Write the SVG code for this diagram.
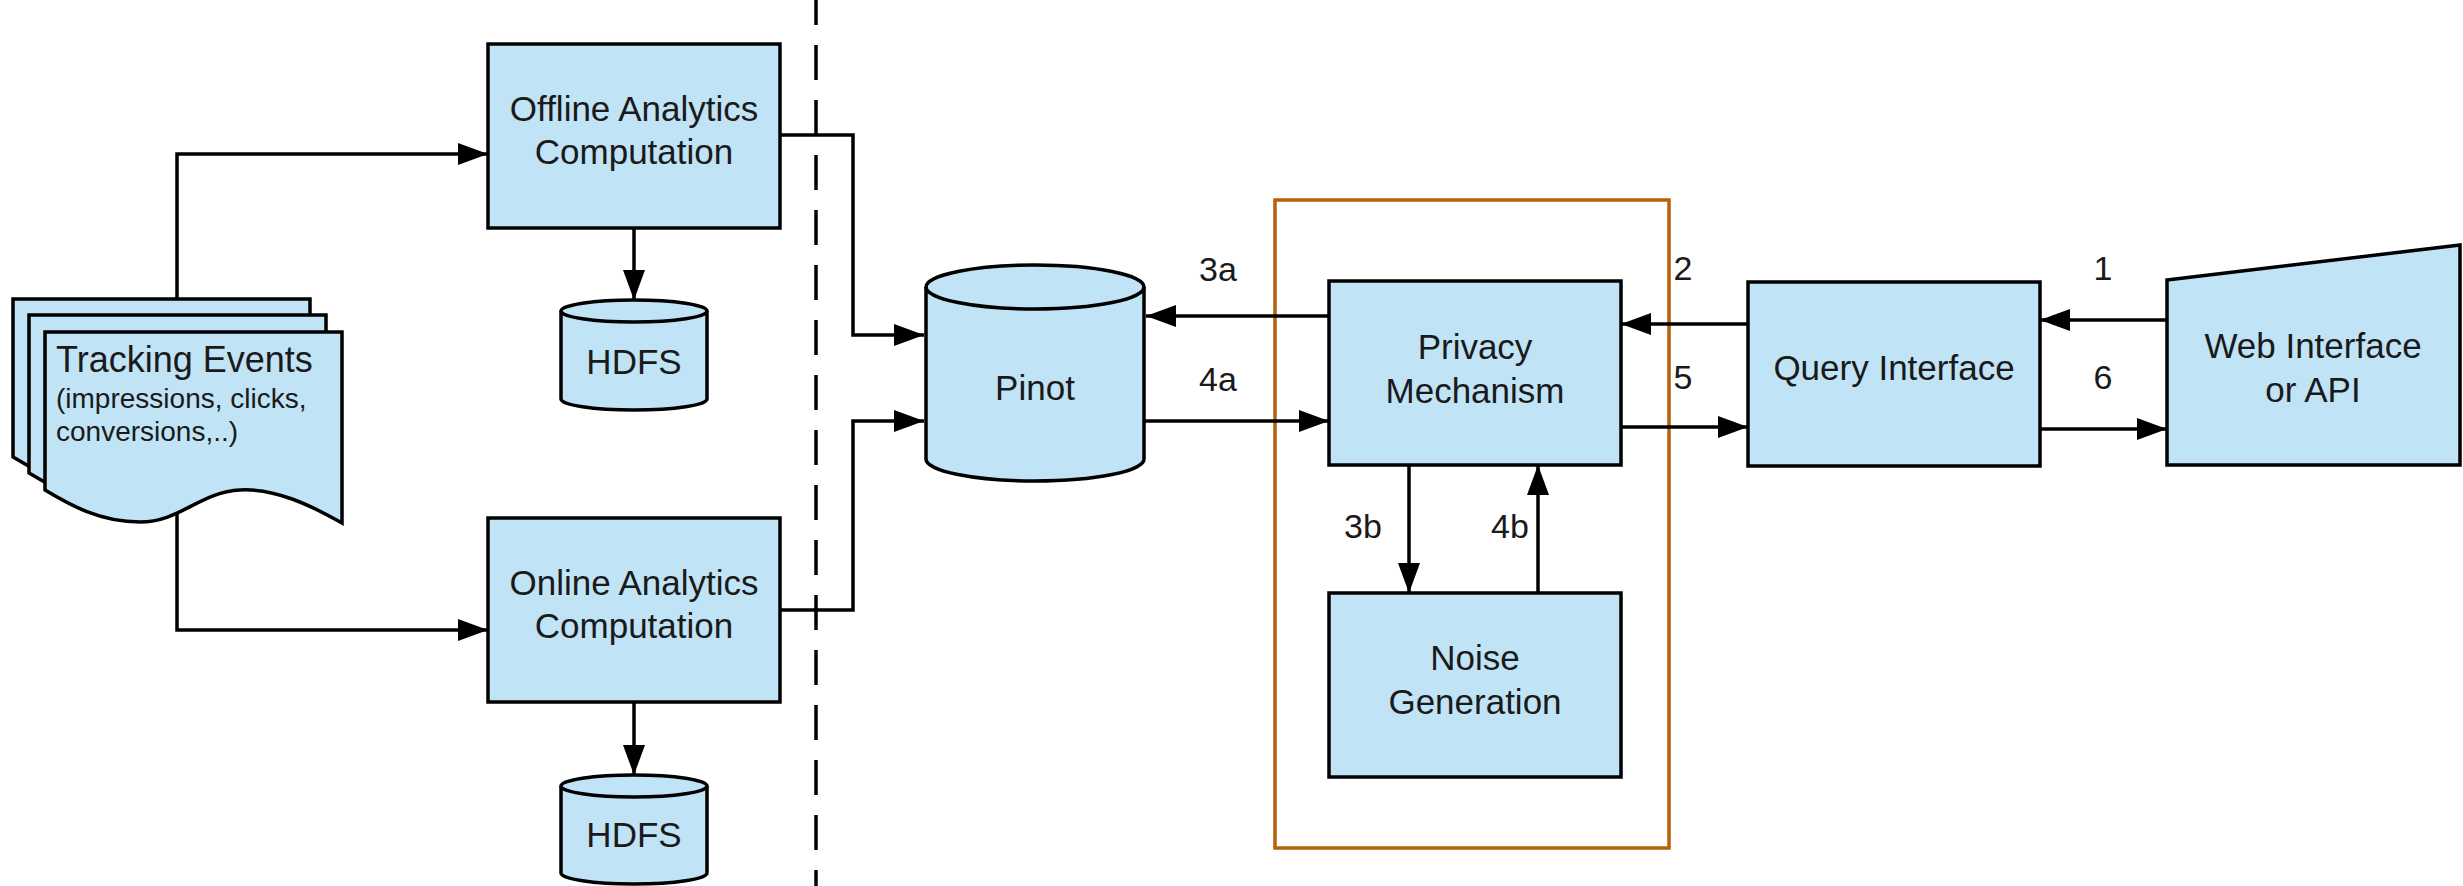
<svg xmlns="http://www.w3.org/2000/svg" width="2463" height="886" viewBox="0 0 2463 886">
<style>
.n{fill:#C0E3F6;stroke:#000;stroke-width:3.5;stroke-linejoin:miter}
.t{font-family:"Liberation Sans",Arial,sans-serif;font-size:35px;fill:#1a1a1a;text-anchor:middle}
.s{font-family:"Liberation Sans",Arial,sans-serif;font-size:28px;fill:#1a1a1a}
.l{font-family:"Liberation Sans",Arial,sans-serif;font-size:34px;fill:#1a1a1a;text-anchor:middle}
.c{fill:none;stroke:#000;stroke-width:3.5}
</style>
<defs>
<marker id="ah" viewBox="0 0 30 22" refX="30" refY="11" markerWidth="30" markerHeight="22" markerUnits="userSpaceOnUse" orient="auto"><path d="M0,0 L30,11 L0,22 Z" fill="#000"/></marker>
</defs>
<rect width="2463" height="886" fill="#fff"/>
<line x1="816" y1="0" x2="816" y2="886" stroke="#000" stroke-width="3.5" stroke-dasharray="35 20" stroke-dashoffset="10"/>
<rect id="container" x="1275" y="200" width="394" height="648" fill="none" stroke="#B8600A" stroke-width="3.5"/>
<g id="tracking">
<path class="n" d="M13,299 H310 V490 C278,472 243,455 208,457 C168,459 148,489 108,489 C68,489 38,472 13,457 Z"/>
<path class="n" d="M29,315 H326 V506 C294,488 259,471 224,473 C184,475 164,505 124,505 C84,505 54,488 29,473 Z"/>
<path class="n" d="M45,332 H342 V523 C310,505 275,488 240,490 C200,492 180,522 140,522 C100,522 70,505 45,490 Z"/>
<text x="56" y="372" class="s" style="font-size:36px">Tracking Events</text>
<text x="56" y="408" class="s">(impressions, clicks,</text>
<text x="56" y="441" class="s">conversions,..)</text>
</g>
<g id="offline"><rect class="n" x="488" y="44" width="292" height="184"/><text class="t" x="634" y="121">Offline Analytics</text><text class="t" x="634" y="164">Computation</text></g>
<g id="online"><rect class="n" x="488" y="518" width="292" height="184"/><text class="t" x="634" y="595">Online Analytics</text><text class="t" x="634" y="638">Computation</text></g>
<g id="hdfs1"><path class="n" d="M561,311 A73,11 0 0 1 707,311 V399 A73,11 0 0 1 561,399 Z"/><path class="c" d="M561,311 A73,11 0 0 0 707,311"/><text class="t" x="634" y="374">HDFS</text></g>
<g id="hdfs2"><path class="n" d="M561,786 A73,11 0 0 1 707,786 V873 A73,11 0 0 1 561,873 Z"/><path class="c" d="M561,786 A73,11 0 0 0 707,786"/><text class="t" x="634" y="847">HDFS</text></g>
<g id="pinot"><path class="n" d="M926,287 A109,22 0 0 1 1144,287 V459 A109,22 0 0 1 926,459 Z"/><path class="c" d="M926,287 A109,22 0 0 0 1144,287"/><text class="t" x="1035" y="400">Pinot</text></g>
<g id="privacy"><rect class="n" x="1329" y="281" width="292" height="184"/><text class="t" x="1475" y="359">Privacy</text><text class="t" x="1475" y="403">Mechanism</text></g>
<g id="noise"><rect class="n" x="1329" y="593" width="292" height="184"/><text class="t" x="1475" y="670">Noise</text><text class="t" x="1475" y="714">Generation</text></g>
<g id="query"><rect class="n" x="1748" y="282" width="292" height="184"/><text class="t" x="1894" y="380">Query Interface</text></g>
<g id="web"><path class="n" d="M2167,280 L2460,245 V465 H2167 Z"/><text class="t" x="2313" y="358">Web Interface</text><text class="t" x="2313" y="402">or API</text></g>
<g id="connectors" class="c">
<path class="c" d="M177,299 V154 H488" marker-end="url(#ah)"/>
<path class="c" d="M177,513 V630 H488" marker-end="url(#ah)"/>
<path class="c" d="M634,228 V300" marker-end="url(#ah)"/>
<path class="c" d="M634,702 V775" marker-end="url(#ah)"/>
<path class="c" d="M780,135 H853 V335 H924" marker-end="url(#ah)"/>
<path class="c" d="M780,610 H853 V421 H924" marker-end="url(#ah)"/>
<path class="c" d="M1329,316 H1146" marker-end="url(#ah)"/>
<path class="c" d="M1144,421 H1329" marker-end="url(#ah)"/>
<path class="c" d="M1409,465 V593" marker-end="url(#ah)"/>
<path class="c" d="M1538,593 V465" marker-end="url(#ah)"/>
<path class="c" d="M1748,324 H1621" marker-end="url(#ah)"/>
<path class="c" d="M1621,427 H1748" marker-end="url(#ah)"/>
<path class="c" d="M2167,320 H2040" marker-end="url(#ah)"/>
<path class="c" d="M2040,429 H2167" marker-end="url(#ah)"/>
</g>
<g id="labels">
<text class="l" x="1218" y="281">3a</text>
<text class="l" x="1218" y="391">4a</text>
<text class="l" x="1363" y="538">3b</text>
<text class="l" x="1510" y="538">4b</text>
<text class="l" x="1683" y="280">2</text>
<text class="l" x="1683" y="389">5</text>
<text class="l" x="2103" y="280">1</text>
<text class="l" x="2103" y="389">6</text>
</g>
</svg>
